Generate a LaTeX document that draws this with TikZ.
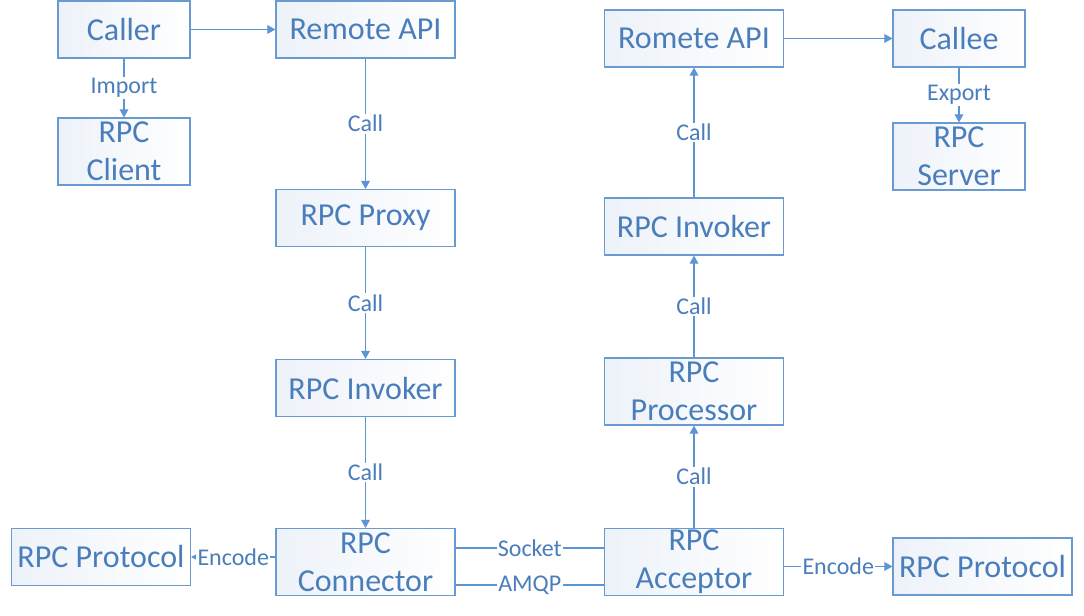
\documentclass[tikz,border=0pt]{standalone}
\usepackage{fontspec}
\setmainfont{Carlito}
\usetikzlibrary{arrows.meta}
\definecolor{bord}{HTML}{6A9BD0}
\definecolor{txt}{HTML}{4A7EBB}
\definecolor{lin}{HTML}{5B95D3}
\definecolor{shd}{HTML}{EDF2F9}
\begin{document}
\begin{tikzpicture}[x=0.75pt,y=-0.75pt,
  box/.style={draw=bord, line width=0.9pt, left color=shd, right color=white,
    text=txt, align=center, inner sep=0pt, font=\fontsize{24}{28.5}\selectfont},
  sw/.style={box, minimum width=99pt},
  ww/.style={box, minimum width=134.25pt},
  one/.style={minimum height=42.75pt},
  two/.style={minimum height=50.25pt},
  conn/.style={draw=lin, line width=0.8pt},
  arr/.style={conn, -{Triangle[width=6.5pt,length=6pt]}},
  lbl/.style={fill=white, text=txt, inner sep=1pt, font=\fontsize{18}{20}\selectfont}]
\useasboundingbox (0,0) rectangle (1084,616);
\node[sw,one] (caller) at (124,29.5) {Caller};
\node[sw,two] (client) at (124,151.5) {RPC\\Client};
\node[ww,one] (rapi) at (365.5,29.5) {Remote API};
\node[ww,one] (proxy) at (365.5,218) {RPC Proxy};
\node[ww,one] (invl) at (365.5,388) {RPC Invoker};
\node[ww,two] (connr) at (365.5,562) {RPC\\Connector};
\node[ww,one] (protl) at (101,557) {RPC Protocol};
\node[ww,two] (acc) at (694,562) {RPC\\Acceptor};
\node[ww,two] (proc) at (694,391.5) {RPC\\Processor};
\node[ww,one] (invr) at (694,226.5) {RPC Invoker};
\node[ww,one] (romapi) at (694,38.5) {Romete API};
\node[sw,one] (callee) at (959,38.5) {Callee};
\node[sw,two] (server) at (959,156.5) {RPC\\Server};
\node[ww,one] (protr) at (982.5,566.5) {RPC Protocol};

\draw[arr] (caller) -- (rapi);
\draw[arr] (caller) -- node[lbl]{Import} (client);
\draw[arr] (rapi) -- node[lbl]{Call} (proxy);
\draw[arr] (proxy) -- node[lbl]{Call} (invl);
\draw[arr] (invl) -- node[lbl]{Call} (connr);
\draw[arr] (connr.west |- protl) -- node[lbl]{Encode} (protl.east);
\draw[conn] (connr.east |- 0,548) -- node[lbl]{Socket} (acc.west |- 0,548);
\draw[conn] (connr.east |- 0,585) -- node[lbl]{AMQP} (acc.west |- 0,585);
\draw[arr] (acc) -- node[lbl]{Call} (proc);
\draw[arr] (proc) -- node[lbl]{Call} (invr);
\draw[arr] (invr) -- node[lbl]{Call} (romapi);
\draw[arr] (romapi) -- (callee);
\draw[arr] (callee) -- node[lbl]{Export} (server);
\draw[arr] (acc.east |- protr) -- node[lbl]{Encode} (protr.west);
\end{tikzpicture}
\end{document}
